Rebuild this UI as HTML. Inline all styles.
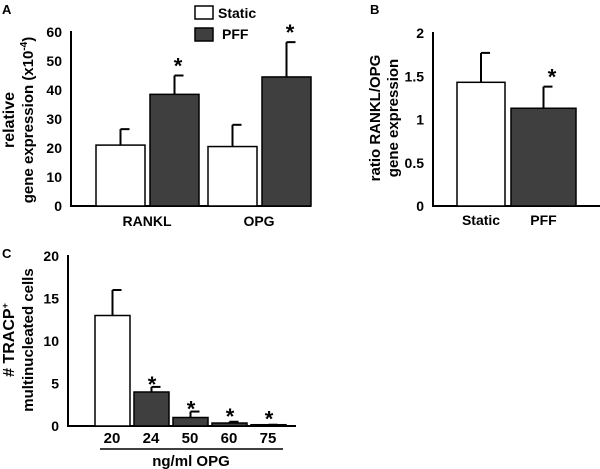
<!DOCTYPE html>
<html><head><meta charset="utf-8"><style>
body{margin:0;background:#fff;}
svg{display:block;font-family:"Liberation Sans",Arial,sans-serif;font-weight:bold;}
</style></head><body>
<svg width="600" height="469" viewBox="0 0 600 469" id="fig"></svg>
<script>
// Panel A data
const aCats=["RANKL","OPG"];
const aStatic=[21,20.5];
const aStaticErr=[26.5,28];
const aPFF=[38.5,44.5];
const aPFFErr=[45,56.5];
const aTicks=[0,10,20,30,40,50,60];
// Panel B data
const bCats=["Static","PFF"];
const bVals=[1.43,1.13];
const bErr=[1.77,1.38];
const bTicks=[0,0.5,1,1.5,2];
// Panel C data
const cCats=["20","24","50","60","75"];
const cVals=[13,4,1,0.35,0.15];
const cErr=[16,4.6,1.7,0.5,0.15];
const cStar=[false,true,true,true,true];
const cTicks=[0,5,10,15,20];

const svg=document.getElementById('fig');
const NS="http://www.w3.org/2000/svg";
function el(tag,attrs,text,name){const e=document.createElementNS(NS,tag);for(const k in attrs)e.setAttribute(k,attrs[k]);if(text!==undefined)e.textContent=text;


svg.appendChild(e);return e;}
const DARK="#3f3f3f";
function axes(x0,x1,y0,y1,vmax,ticks,fmt,name,fs){
  const sy=v=>y0-(y0-y1)*v/vmax;
  el('line',{x1:x0,y1:y1-1,x2:x0,y2:y0+1,stroke:'#000','stroke-width':2},undefined,name+'-y-axis');
  el('line',{x1:x0,y1:y0,x2:x1,y2:y0,stroke:'#000','stroke-width':2},undefined,name+'-x-axis');
  ticks.forEach(t=>{el('text',{x:x0-9,y:sy(t)+5,'text-anchor':'end','font-size':fs},fmt(t),name+'-tick-label');});
  return sy;
}
function bar(x,w,v,err,sy,fill,name){
  const top=sy(v),y0=sy(0);
  el('line',{x1:x+w/2,y1:top,x2:x+w/2,y2:sy(err),stroke:'#000','stroke-width':2},undefined,name+'-error-bar');
  el('line',{x1:x+w/2,y1:sy(err),x2:x+w/2+9,y2:sy(err),stroke:'#000','stroke-width':2},undefined,name+'-error-cap');
  el('rect',{x:x,y:top,width:w,height:y0-top,fill:fill,stroke:'#000','stroke-width':1.5},undefined,name);
}
function star(x,y,name){el('text',{x:x,y:y,'text-anchor':'middle','font-size':22},'*',name);}

// Panel A
el('text',{x:2,y:14,'font-size':13},'A','panel-a-label');
const syA=axes(71,311,206,32,60,aTicks,t=>t,'panel-a',14);
aCats.forEach((c,i)=>{
  const gx=96+i*112;
  bar(gx,49,aStatic[i],aStaticErr[i],syA,'#fff','bar-static-'+c.toLowerCase());
  bar(gx+54,49,aPFF[i],aPFFErr[i],syA,DARK,'bar-pff-'+c.toLowerCase());
  star(gx+54+28,syA(aPFFErr[i])-2,'significance-star');
  el('text',{x:gx+51,y:226,'text-anchor':'middle','font-size':14},c,'x-tick-label');
});
el('text',{transform:'translate(14,120) rotate(-90)','text-anchor':'middle','font-size':16},'relative','y-axis-title-line1');
const yt=el('text',{transform:'translate(33,120) rotate(-90)','text-anchor':'middle','font-size':15},'gene expression (x10','y-axis-title-line2');
const sup=document.createElementNS(NS,'tspan');sup.setAttribute('dy','-6');sup.setAttribute('font-size','10');sup.textContent='-4';yt.appendChild(sup);
const cl=document.createElementNS(NS,'tspan');cl.setAttribute('dy','6');cl.textContent=')';yt.appendChild(cl);
// legend
el('rect',{x:195,y:6,width:18,height:13,fill:'#fff',stroke:'#000','stroke-width':1.5},undefined,'legend-static-swatch');
el('text',{x:218,y:18,'font-size':14},'Static','legend-static-label');
el('rect',{x:195,y:28,width:18,height:13,fill:DARK,stroke:'#000','stroke-width':1.5},undefined,'legend-pff-swatch');
el('text',{x:222,y:39,'font-size':14},'PFF','legend-pff-label');

// Panel B
el('text',{x:370,y:14,'font-size':13},'B','panel-b-label');
const syB=axes(433,600,206,33,2,bTicks,t=>t,'panel-b',14);
const bx=[457,511],bw=[48,65];
bCats.forEach((c,i)=>{
  bar(bx[i],bw[i],bVals[i],bErr[i],syB,i?DARK:'#fff','bar-'+c.toLowerCase());
  el('text',{x:bx[i]+bw[i]/2,y:225,'text-anchor':'middle','font-size':14},c,'x-tick-label');
});
star(552,syB(bErr[1])-2,'significance-star');
el('text',{transform:'translate(380,118) rotate(-90)','text-anchor':'middle','font-size':15},'ratio RANKL/OPG','y-axis-title-line1');
el('text',{transform:'translate(398,118) rotate(-90)','text-anchor':'middle','font-size':15},'gene expression','y-axis-title-line2');

// Panel C
el('text',{x:2,y:258,'font-size':13},'C','panel-c-label');
const syC=axes(68,296,426,256,20,cTicks,t=>t,'panel-c',14);
cCats.forEach((c,i)=>{
  const x=95+i*39;
  bar(x,35,cVals[i],cErr[i],syC,i?DARK:'#fff','bar-opg-'+c);
  if(cStar[i])star(x+18,syC(cErr[i])+5-(cErr[i]<1?3:0),'significance-star');
  el('text',{x:x+17,y:443,'text-anchor':'middle','font-size':15},c,'x-tick-label');
});
el('line',{x1:100,y1:449,x2:283,y2:449,stroke:'#000','stroke-width':1.5},undefined,'x-group-line');
el('text',{x:191,y:466,'text-anchor':'middle','font-size':15},'ng/ml OPG','x-axis-title');
const ct=el('text',{transform:'translate(14,340) rotate(-90)','text-anchor':'middle','font-size':16},'# TRACP','y-axis-title-line1');
const s2=document.createElementNS(NS,'tspan');s2.setAttribute('dy','-6');s2.setAttribute('font-size','9');s2.textContent='+';ct.appendChild(s2);
el('text',{transform:'translate(33,340) rotate(-90)','text-anchor':'middle','font-size':15},'multinucleated cells','y-axis-title-line2');
</script>
</body></html>
